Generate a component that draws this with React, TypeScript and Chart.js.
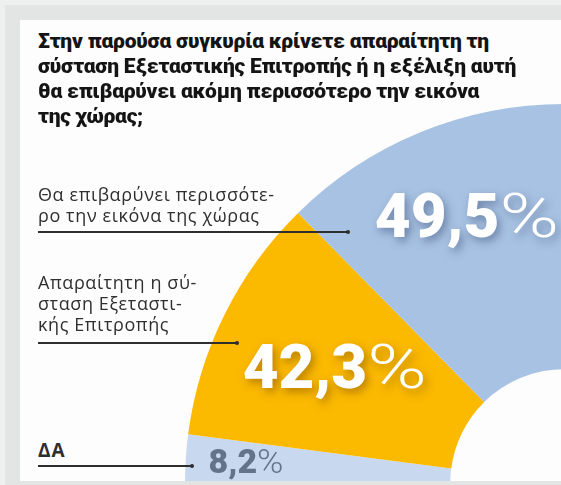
import React, { useEffect, useRef } from "react";
import { Chart, DoughnutController, ArcElement } from "chart.js";

Chart.register(DoughnutController, ArcElement);

// ---- data ----
const categories = [
  "ΔΑ",
  "Απαραίτητη η σύσταση Εξεταστικής Επιτροπής",
  "Θα επιβαρύνει περισσότερο την εικόνα της χώρας",
];
const values = [8.2, 42.3, 49.5];
const valueLabels = ["8,2", "42,3", "49,5"];
const titleLines = [
  "Στην παρούσα συγκυρία κρίνετε απαραίτητη τη",
  "σύσταση Εξεταστικής Επιτροπής ή η εξέλιξη αυτή",
  "θα επιβαρύνει ακόμη περισσότερο την εικόνα",
  "της χώρας;",
];
const legendLines = [
  ["ΔΑ"],
  ["Απαραίτητη η σύ-", "σταση Εξεταστι-", "κής Επιτροπής"],
  ["Θα επιβαρύνει περισσότε-", "ρο την εικόνα της χώρας"],
];

// ---- styles ----
const sliceColors = ["#c8d9ef", "#fbb900", "#a8c2e3"];
const LABEL_STYLE = [
  { angleFrac: 0.535, radiusFrac: 0.841, size: 34, color: "#637388", shadow: null as string | null, pctScale: 1.05 },
  { angleFrac: 0.52, radiusFrac: 0.68, size: 62, color: "#ffffff", shadow: "rgba(130,80,0,0.55)", pctScale: 1.3 },
  { angleFrac: 0.553, radiusFrac: 0.752, size: 62, color: "#ffffff", shadow: "rgba(50,70,110,0.5)", pctScale: 1.3 },
];
const LEGEND_POS = [
  { top: 440, lineY: 466, lineEnd: 192, bold: true },
  { top: 272, lineY: 343, lineEnd: 237, bold: false },
  { top: 184, lineY: 232, lineEnd: 348, bold: false },
];

const pctPlugin = {
  id: "pctLabels",
  afterDatasetsDraw(chart: any) {
    const meta = chart.getDatasetMeta(0);
    const ctx: CanvasRenderingContext2D = chart.ctx;
    meta.data.forEach((arc: any, i: number) => {
      const p = arc.getProps(["x", "y", "startAngle", "endAngle", "outerRadius"], true);
      const st = LABEL_STYLE[i];
      const a = p.startAngle + (p.endAngle - p.startAngle) * st.angleFrac;
      const r = p.outerRadius * st.radiusFrac;
      const cx = p.x + Math.cos(a) * r;
      const cy = p.y + Math.sin(a) * r;
      const numFont = `900 ${st.size}px Roboto, "DejaVu Sans", sans-serif`;
      const pctFont = `300 ${st.size}px Roboto, "DejaVu Sans", sans-serif`;
      ctx.save();
      ctx.font = numFont;
      const w1 = ctx.measureText(valueLabels[i]).width;
      ctx.font = pctFont;
      const w2 = ctx.measureText("%").width * st.pctScale;
      const total = w1 + w2;
      const x0 = cx - total / 2;
      const base = cy + st.size * 0.36;
      if (st.shadow) {
        ctx.shadowColor = st.shadow;
        ctx.shadowBlur = 8;
        ctx.shadowOffsetX = 3;
        ctx.shadowOffsetY = 4;
      }
      ctx.fillStyle = st.color;
      ctx.textBaseline = "alphabetic";
      ctx.textAlign = "left";
      ctx.font = numFont;
      ctx.fillText(valueLabels[i], x0, base);
      ctx.font = pctFont;
      ctx.translate(x0 + w1, base);
      ctx.scale(st.pctScale, 1);
      ctx.fillText("%", 0, 0);
      ctx.restore();
    });
  },
};

function PieChart() {
  const ref = useRef<HTMLCanvasElement | null>(null);
  useEffect(() => {
    if (!ref.current) return;
    const chart = new Chart(ref.current, {
      type: "doughnut",
      data: {
        labels: categories,
        datasets: [
          {
            data: values,
            backgroundColor: sliceColors,
            borderWidth: 0,
          },
        ],
      },
      options: {
        responsive: false,
        animation: false,
        events: [],
        rotation: -90,
        circumference: 90,
        cutout: "30%",
        layout: { padding: 0 },
        plugins: { legend: { display: false }, tooltip: { enabled: false } },
      } as any,
      plugins: [pctPlugin],
    });
    return () => chart.destroy();
  }, []);
  return (
    <canvas
      ref={ref}
      width={379}
      height={379}
      style={{ position: "absolute", left: 165, top: 84, width: 379, height: 379 }}
    />
  );
}

export default function App() {
  return (
    <div
      style={{
        position: "fixed",
        left: 0,
        top: 0,
        width: 561,
        height: 485,
        background: "#e3e4e4",
        overflow: "hidden",
      }}
    >
      <div style={{ position: "absolute", left: 0, top: 0, width: 561, height: 5, background: "#eeefef" }} />
      <div style={{ position: "absolute", left: 0, top: 0, width: 5, height: 485, background: "#eeefef" }} />
      <div
        style={{
          position: "absolute",
          left: 20,
          top: 20,
          width: 541,
          height: 461,
          background: "#fdfdfd",
          overflow: "hidden",
        }}
      >
        <PieChart />
      </div>
      {titleLines.map((t, i) => (
        <div
          key={"t" + i}
          style={{
            position: "absolute",
            left: 38,
            top: 29 + i * 25,
            whiteSpace: "nowrap",
            font: "900 21px Roboto, sans-serif",
            letterSpacing: "-0.2px",
            lineHeight: "25px",
            color: "#141414",
          }}
        >
          {t}
        </div>
      ))}
      {legendLines.map((lines, k) => (
        <React.Fragment key={"l" + k}>
          {lines.map((t, j) => (
            <div
              key={j}
              style={{
                position: "absolute",
                left: 38,
                top: LEGEND_POS[k].top + j * 21,
                whiteSpace: "nowrap",
                font: `${LEGEND_POS[k].bold ? 700 : 500} ${LEGEND_POS[k].bold ? 19 : 18}px "Open Sans", sans-serif`,
                letterSpacing: LEGEND_POS[k].bold ? "1px" : "0.6px",
                lineHeight: "21px",
                color: "#2f2f2f",
              }}
            >
              {t}
            </div>
          ))}
          <div
            style={{
              position: "absolute",
              left: 38,
              top: LEGEND_POS[k].lineY - 0.75,
              width: LEGEND_POS[k].lineEnd - 38,
              height: 1.5,
              background: "#2e2e2e",
            }}
          />
          <div
            style={{
              position: "absolute",
              left: LEGEND_POS[k].lineEnd - 2,
              top: LEGEND_POS[k].lineY - 2,
              width: 4,
              height: 4,
              borderRadius: 2,
              background: "#2e2e2e",
            }}
          />
        </React.Fragment>
      ))}
    </div>
  );
}
